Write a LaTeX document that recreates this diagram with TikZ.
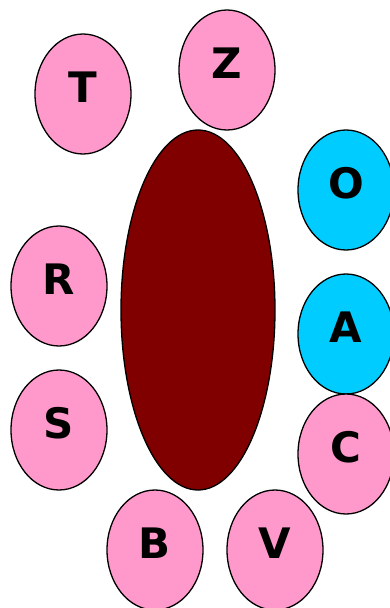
\documentclass[tikz,border=0pt]{standalone}
\usepackage{fontspec}
\setmainfont{DejaVu Sans}
\usetikzlibrary{shapes.geometric}
\definecolor{pinkfill}{HTML}{FF99CC}
\definecolor{cyanfill}{HTML}{00CCFF}
\definecolor{darkredfill}{HTML}{800000}
\tikzset{
  letterbub/.style={ellipse, draw=black, line width=1.3pt, inner sep=0pt,
    minimum width=96pt, minimum height=120pt,
    font=\fontsize{42}{42}\selectfont\bfseries, text height=16pt, text depth=0pt},
  pinkbub/.style={letterbub, fill=pinkfill},
  cyanbub/.style={letterbub, fill=cyanfill},
  bigbub/.style={ellipse, draw=black, line width=1.3pt, fill=darkredfill, inner sep=0pt,
    minimum width=154pt, minimum height=360pt}
}
\begin{document}
\begin{tikzpicture}[x=1pt,y=-1pt]
\useasboundingbox (0,0) rectangle (389,608);
\node[bigbub] (mid) at (198,310) {};
\node[pinkbub] (T) at (83,94) {T};
\node[pinkbub] (Z) at (227,70) {Z};
\node[cyanbub] (O) at (346,190) {O};
\node[pinkbub] (R) at (59,286) {R};
\node[cyanbub] (A) at (346,334) {A};
\node[pinkbub] (S) at (59,430) {S};
\node[pinkbub] (C) at (346,454) {C};
\node[pinkbub] (B) at (155,550) {B};
\node[pinkbub] (V) at (275,550) {V};
\end{tikzpicture}
\end{document}
